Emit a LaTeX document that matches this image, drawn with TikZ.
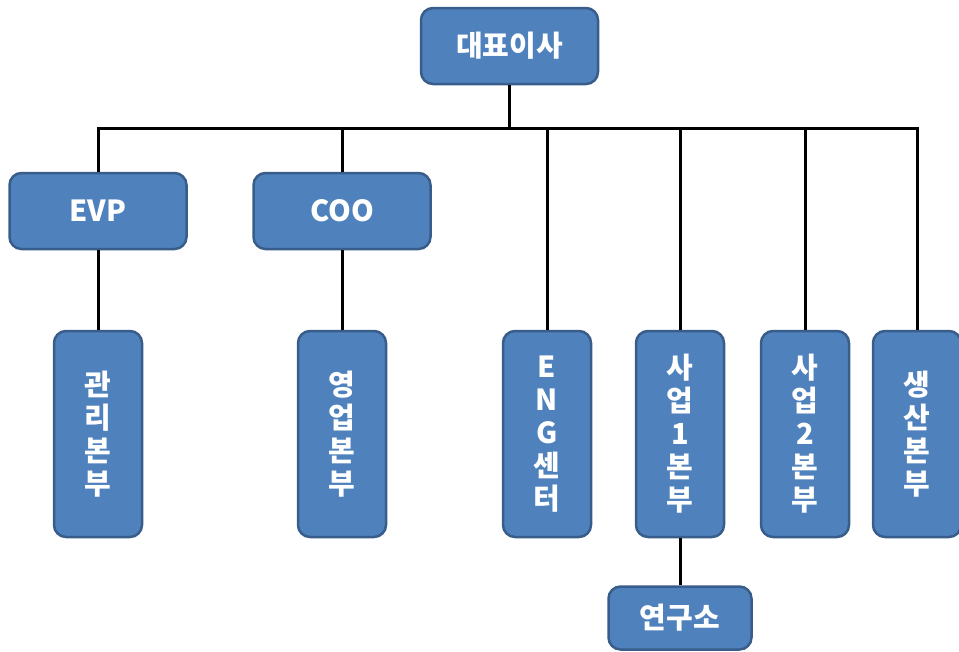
\documentclass[tikz,border=0pt]{standalone}
\usepackage{fontspec}
\setmainfont{Noto Sans CJK KR}
\usetikzlibrary{positioning,calc}
\definecolor{boxblue}{HTML}{4F81BD}
\definecolor{boxedge}{HTML}{385D8A}
\tikzset{
    unit/.style={rectangle, draw=boxedge, fill=boxblue, line width=2.5pt, rounded corners=12pt,
        text=white, font=\bfseries\fontsize{29}{33}\selectfont, align=center, inner sep=0pt},
    wide/.style={unit, minimum width=177pt, minimum height=76pt},
    tall/.style={unit, minimum width=88pt, minimum height=206pt},
    link/.style={draw, line width=3pt}
}
\begin{document}
\begin{tikzpicture}[x=1pt, y=1pt]
    \useasboundingbox (0,0) rectangle (959,-651);
    % Top
    \node [wide] (ceo) at (509.5,-46) {대표이사};
    \coordinate (bus) at (509.5,-128);

    % Second level
    \node [wide] (evp) at (98,-211) {EVP};
    \node [wide] (coo) at (342,-211) {COO};

    % Divisions
    \node [tall] (admin) at (98,-434) {관\\리\\본\\부};
    \node [tall] (sales) at (342,-434) {영\\업\\본\\부};
    \node [tall] (eng) at (547,-434) {E\\N\\G\\센\\터};
    \node [tall] (biz1) at (680,-434) {사\\업\\1\\본\\부};
    \node [tall] (biz2) at (805,-434) {사\\업\\2\\본\\부};
    \node [tall] (prod) at (917,-434) {생\\산\\본\\부};
    \node [unit, minimum width=143pt, minimum height=63pt, below=47pt of biz1] (lab) {연구소};

    % Lines
    \draw [link] (ceo.south) -- (bus);
    \draw [link] (evp.north) |- (bus) -| (prod.north);
    \foreach \n in {coo, eng, biz1, biz2}
        \draw [link] (\n.north) -- (\n.north |- bus);
    \draw [link] (evp.south) -- (admin.north);
    \draw [link] (coo.south) -- (sales.north);
    \draw [link] (biz1.south) -- (lab.north);
\end{tikzpicture}
\end{document}
